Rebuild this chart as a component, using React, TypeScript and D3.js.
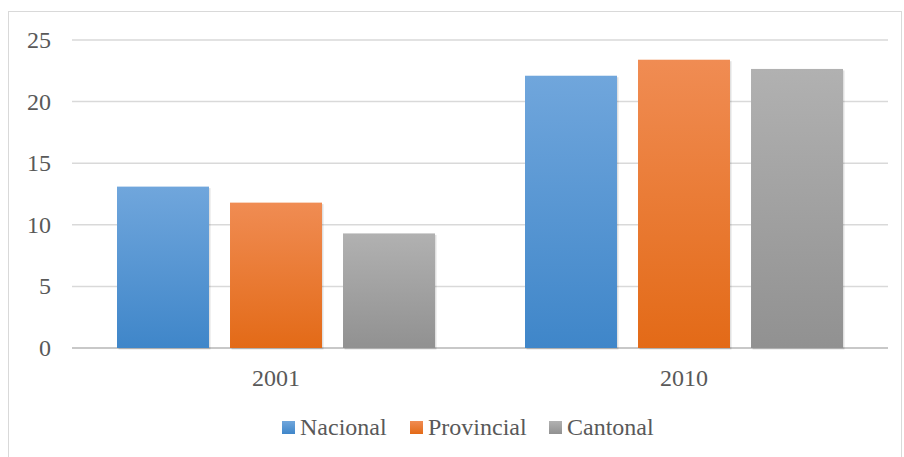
import React from "react";
import * as d3 from "d3";

const categories = ["2001", "2010"];
const seriesNames = ["Nacional", "Provincial", "Cantonal"];
const nacional = [13.1, 22.1];
const provincial = [11.8, 23.4];
const cantonal = [9.3, 22.65];
const yTicks = [0, 5, 10, 15, 20, 25];

const seriesValues = [nacional, provincial, cantonal];
const gradients = [
  ["#70a6dc", "#3f86c9"],
  ["#f08c53", "#e36a17"],
  ["#b1b1b1", "#919191"],
];

const W = 904;
const H = 457;
const left = 72;
const right = 888;
const top = 40;
const bottom = 348;
const css = `svg text { font-family: "Liberation Serif", "Tinos", "Times New Roman" !important; font-size: 24px; fill: #595959; }`;

export default function App() {
  const x0 = d3.scaleBand().domain(categories).range([left, right]).paddingInner(0.2206).paddingOuter(0.1103);
  const x1 = d3.scaleBand().domain(seriesNames).range([0, x0.bandwidth()]).paddingInner(0.186);
  const y = d3.scaleLinear().domain([0, 25]).range([bottom, top]);

  const legendX = [282, 410, 549];

  return (
    <div style={{ position: "absolute", left: 0, top: 0, width: W, height: H, fontFamily: '"Liberation Serif"' }}>
      <style>{css}</style>
      <svg width={W} height={H}>
        <defs>
          {gradients.map((g, i) => (
            <linearGradient key={i} id={`g${i}`} x1="0" y1="0" x2="0" y2="1">
              <stop offset="0%" stopColor={g[0]} />
              <stop offset="100%" stopColor={g[1]} />
            </linearGradient>
          ))}
        </defs>
        <rect x={8.5} y={11.5} width={893} height={450} fill="#fff" stroke="#d9d9d9" strokeWidth={1} />
        {yTicks.map((t) => (
          <g key={t}>
            <line x1={left} x2={right} y1={y(t)} y2={y(t)} stroke={t === 0 ? "#c8c8c8" : "#d9d9d9"} strokeWidth={t === 0 ? 2 : 1.5} />
            <text x={51} y={y(t) + 8} textAnchor="end">
              {String(t)}
            </text>
          </g>
        ))}
        {categories.map((c, ci) => (
          <g key={c}>
            {seriesNames.map((s, si) => {
              const v = seriesValues[si][ci];
              const bx = (x0(c) as number) + (x1(s) as number);
              return (
                <g key={s}>
                  <rect x={bx + 1.5} y={y(v) + 1.5} width={x1.bandwidth()} height={bottom - y(v)} fill="#000" opacity={0.12} />
                  <rect x={bx} y={y(v)} width={x1.bandwidth()} height={bottom - y(v)} fill={`url(#g${si})`} />
                </g>
              );
            })}
            <text x={(x0(c) as number) + x0.bandwidth() / 2} y={386} textAnchor="middle">
              {c}
            </text>
          </g>
        ))}
        {seriesNames.map((s, i) => (
          <g key={s}>
            <rect x={legendX[i]} y={421} width={13} height={13} fill={`url(#g${i})`} />
            <text x={legendX[i] + 18} y={435}>
              {s}
            </text>
          </g>
        ))}
      </svg>
    </div>
  );
}
